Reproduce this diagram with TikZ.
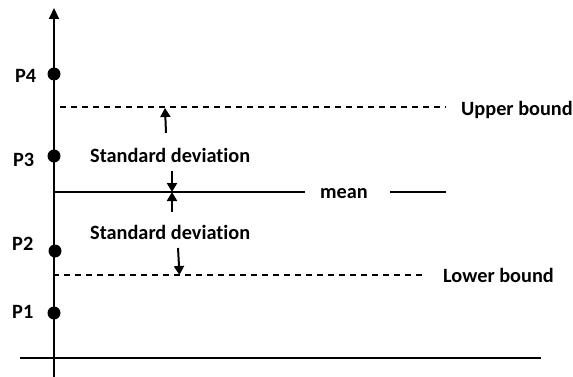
\documentclass[tikz,border=0pt]{standalone}
\usepackage{fontspec}
\setmainfont{Carlito}[Ligatures=NoCommon]
\usetikzlibrary{arrows.meta}
\begin{document}
\begin{tikzpicture}[x=1pt,y=-1pt,
  lbl/.style={font=\bfseries\fontsize{20.3}{23}\selectfont, inner sep=0pt, anchor=base west},
  dot/.style={circle, fill=black, inner sep=0pt, minimum size=13pt},
  axis/.style={line width=2pt},
  bound/.style={line width=1.3pt, dash pattern=on 6pt off 5pt},
  sd/.style={line width=2pt, -{Triangle[length=9pt,width=10pt]}}]
\useasboundingbox (0,0) rectangle (573,377);
% axes
\coordinate (ybot) at (54,377);
\coordinate (ytop) at (54,8);
\coordinate (xl) at (20,358);
\coordinate (xr) at (541,358);
\draw[axis,-{Triangle[length=11pt,width=10pt]}] (ybot) -- (ytop);
\draw[axis] (xl) -- (xr);
% points
\node[dot] (p4) at (54,74) {};
\node[dot] (p3) at (54,156) {};
\node[dot] (p2) at (55,251) {};
\node[dot] (p1) at (54,313) {};
\node[lbl] (l4) at (15,83) {P4};
\node[lbl] (l3) at (13,167) {P3};
\node[lbl] (l2) at (12,250) {P2};
\node[lbl] (l1) at (12,318) {P1};
% bounds
\coordinate (ub1) at (60,107);
\coordinate (ub2) at (446,107);
\draw[bound] (ub1) -- (ub2);
\node[lbl] (ubt) at (461,116) {Upper bound};
\coordinate (lb1) at (53,275);
\coordinate (lb2) at (425,275);
\draw[bound] (lb1) -- (lb2);
\node[lbl] (lbt) at (443,282) {Lower bound};
% mean
\coordinate (m1) at (54,192);
\coordinate (m2) at (305,192);
\coordinate (m3) at (390,192);
\coordinate (m4) at (446,192);
\draw[line width=1.5pt] (m1) -- (m2);
\draw[line width=1.5pt] (m3) -- (m4);
\node[lbl] (mt) at (320,198) {mean};
% standard deviation
\node[lbl] (sd1) at (90,162.5) {Standard deviation};
\node[lbl] (sd2) at (90,239.5) {Standard deviation};
\coordinate (a1s) at (166,133);
\coordinate (a1e) at (165,108);
\draw[sd] (a1s) -- (a1e);
\coordinate (a2s) at (172,171);
\coordinate (a2e) at (172,192);
\draw[sd] (a2s) -- (a2e);
\coordinate (a3s) at (172,212);
\coordinate (a3e) at (172,192);
\draw[sd] (a3s) -- (a3e);
\coordinate (a4s) at (178,248);
\coordinate (a4e) at (179.5,275);
\draw[sd] (a4s) -- (a4e);
\end{tikzpicture}
\end{document}
